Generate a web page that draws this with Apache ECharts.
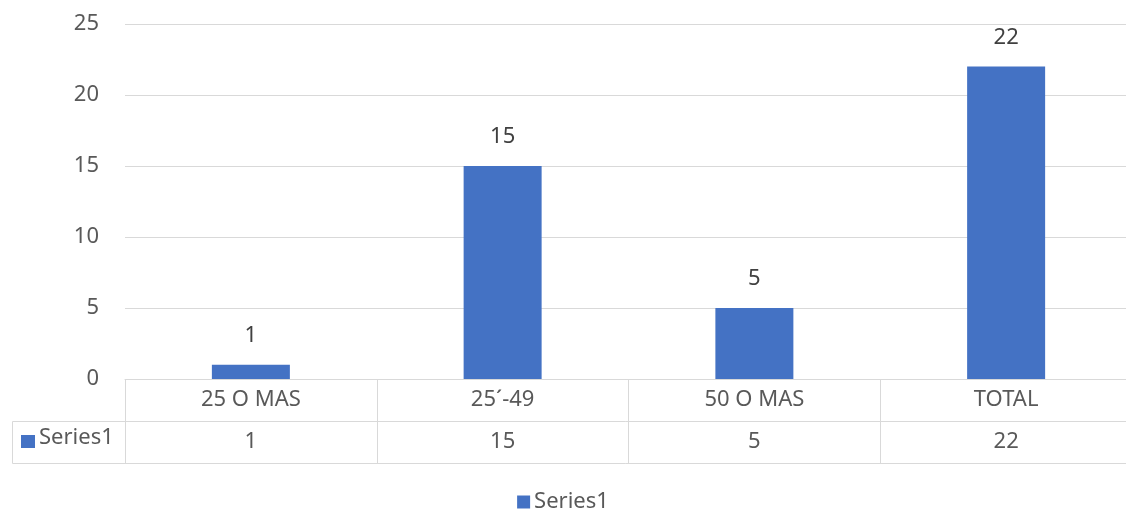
<!DOCTYPE html>
<html>
<head>
<meta charset="utf-8">
<script src="https://cdn.jsdelivr.net/npm/echarts@6/dist/echarts.min.js"></script>
<style>
  html, body { margin: 0; padding: 0; background: #fff; }
  #chart { width: 1126px; height: 511px; }
</style>
</head>
<body>
<div id="chart"></div>
<script>
// data
const categories = ['25 O MAS', '25´-49', '50 O MAS', 'TOTAL']
const seriesName = 'Series1'
const values = [1, 15, 5, 22]
const yMin = 0
const yMax = 25
const yStep = 5

const FONT = 'Noto Sans'
const BLUE = '#4472C4'
const LINE = '#d9d9d9'
const rowH = 42 // data table row height
const gridLeft = 125
const gridTop = 24
const gridH = 355
const gridBottom = gridTop + gridH
const cellLeft = 12

const chart = echarts.init(document.getElementById('chart'))

chart.setOption({
  animation: false,
  textStyle: { fontFamily: FONT },
  legend: {
    data: [seriesName],
    left: 'center',
    top: 486,
    icon: 'rect',
    itemWidth: 13,
    itemHeight: 13,
    itemGap: 10,
    textStyle: { color: '#595959', fontSize: 22, fontFamily: FONT, padding: [0, 0, 0, -1] }
  },
  grid: {
    left: gridLeft,
    top: gridTop,
    width: 1007,
    height: gridH,
    outerBoundsMode: 'none',
    containLabel: false
  },
  xAxis: [
    {
      // first table row: category names
      type: 'category',
      data: categories,
      position: 'bottom',
      axisLine: { show: true, lineStyle: { color: LINE, width: 1 } },
      axisTick: { show: true, length: rowH, lineStyle: { color: LINE } },
      axisLabel: { color: '#595959', fontSize: 22, fontFamily: FONT, margin: 6, lineHeight: 30 }
    },
    {
      // second table row: the values
      type: 'category',
      data: categories,
      position: 'bottom',
      offset: rowH,
      axisLine: { show: true, lineStyle: { color: LINE, width: 1 } },
      axisTick: { show: true, length: rowH, lineStyle: { color: LINE } },
      axisLabel: {
        color: '#595959', fontSize: 22, fontFamily: FONT, margin: 6, lineHeight: 30,
        formatter: (v, i) => String(values[i])
      }
    },
    {
      // bottom edge of the table
      type: 'category',
      data: categories,
      position: 'bottom',
      offset: rowH * 2,
      axisLine: { show: true, lineStyle: { color: LINE, width: 1 } },
      axisTick: { show: false },
      axisLabel: { show: false }
    }
  ],
  yAxis: {
    type: 'value',
    min: yMin,
    max: yMax,
    interval: yStep,
    axisLine: { show: false },
    axisTick: { show: false },
    axisLabel: { color: '#595959', fontSize: 22, fontFamily: FONT, margin: 26 },
    splitLine: { lineStyle: { color: LINE, width: 1 } }
  },
  series: [
    {
      name: seriesName,
      type: 'bar',
      xAxisIndex: 0,
      data: values,
      barWidth: 78,
      itemStyle: { color: BLUE },
      label: {
        show: true,
        position: 'top',
        distance: 18,
        color: '#404040',
        fontSize: 22,
        fontFamily: FONT
      }
    }
  ],
  graphic: [
    {
      // legend key cell at the left of the value row
      type: 'polyline',
      shape: {
        points: [
          [gridLeft, gridBottom + rowH + 0.5],
          [cellLeft + 0.5, gridBottom + rowH + 0.5],
          [cellLeft + 0.5, gridBottom + rowH * 2 + 0.5],
          [gridLeft, gridBottom + rowH * 2 + 0.5]
        ]
      },
      style: { fill: null, stroke: LINE, lineWidth: 1 },
      silent: true
    },
    {
      type: 'rect',
      shape: { x: 21, y: gridBottom + rowH + 14, width: 14, height: 13 },
      style: { fill: BLUE },
      silent: true
    },
    {
      type: 'text',
      x: 39,
      y: gridBottom + rowH + 6,
      style: { text: seriesName, fill: '#595959', font: '22px ' + FONT },
      silent: true
    }
  ]
})
</script>
</body>
</html>
